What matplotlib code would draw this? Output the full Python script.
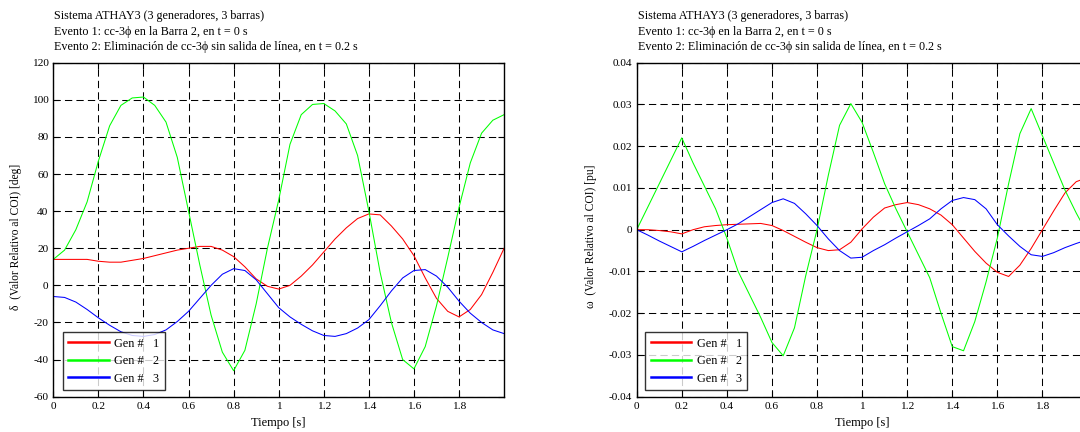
import numpy as np
import matplotlib
matplotlib.use("Agg")
import matplotlib.pyplot as plt

plt.rcParams["font.family"] = ["Liberation Serif", "DejaVu Serif"]

# time base of the read-off samples [s]
t = np.round(np.arange(0, 2.0001, 0.05), 2)

# rotor angle relative to COI [deg]
delta_g1 = [14, 14, 14, 14, 13, 12.5, 12.5, 13.5, 14.5, 16, 17.5, 19, 20, 21, 21, 19,
            15.5, 10, 3.5, -0.5, -2, 0, 5, 11, 18, 25, 31, 36, 38.5, 38, 32, 25, 16,
            4, -7, -14, -17, -13, -5, 7, 20]
delta_g2 = [14, 19, 30, 45, 67, 86, 97, 101, 101.5, 97, 88, 69, 40, 11, -16, -36,
            -46, -35, -10, 20, 46, 76, 92, 97.5, 98, 94, 87, 70, 40, 7, -20, -40, -45,
            -33, -11, 15, 42, 66, 82, 89, 92]
delta_g3 = [-6, -6.5, -9, -13, -17.5, -21.5, -25, -27, -27.5, -26.5, -24, -19.5, -14,
            -7, 0, 6, 9, 8, 3, -4.5, -12, -17, -21, -24.5, -27, -27.5, -26, -23, -18.5,
            -11, -3, 4, 8, 8.5, 5, -1, -8.5, -15, -20, -24, -26]

# speed relative to COI [pu]
omega_g1 = [0, 0, -0.0002, -0.0005, -0.001, 0, 0.0007, 0.001, 0.0012, 0.0013, 0.0014,
            0.0015, 0.001, -0.0002, -0.0016, -0.003, -0.0043, -0.005, -0.0048, -0.003,
            0.0002, 0.003, 0.0052, 0.006, 0.0065, 0.006, 0.005, 0.0035, 0.0012, -0.002,
            -0.0052, -0.008, -0.0102, -0.0112, -0.0085, -0.0045, 0, 0.0045, 0.0088,
            0.0115, 0.0125]
omega_g2 = [0, 0.0055, 0.011, 0.0165, 0.022, 0.016, 0.0105, 0.005, -0.002, -0.01,
            -0.0155, -0.021, -0.027, -0.0302, -0.0235, -0.011, 0.0, 0.013, 0.025, 0.0302,
            0.0257, 0.0185, 0.011, 0.005, -0.0005, -0.006, -0.0115, -0.02, -0.028,
            -0.029, -0.022, -0.0125, -0.002, 0.011, 0.023, 0.029, 0.0225, 0.016, 0.0095,
            0.004, -0.001]
omega_g3 = [0, -0.0013, -0.0027, -0.004, -0.0053, -0.004, -0.0026, -0.0013, 0, 0.0014,
            0.0031, 0.0048, 0.0065, 0.0074, 0.0063, 0.0038, 0.001, -0.0022, -0.005,
            -0.0068, -0.0066, -0.005, -0.0036, -0.002, -0.0005, 0.001, 0.0026, 0.005,
            0.007, 0.0077, 0.0072, 0.005, 0.0012, -0.0015, -0.004, -0.006, -0.0064,
            -0.0055, -0.0043, -0.0033, -0.0024]

x_ticks = [0, 0.2, 0.4, 0.6, 0.8, 1.0, 1.2, 1.4, 1.6, 1.8]
x_labels = ["0", "0.2", "0.4", "0.6", "0.8", "1", "1.2", "1.4", "1.6", "1.8"]
delta_ticks = [-60, -40, -20, 0, 20, 40, 60, 80, 100, 120]
delta_labels = ["-60", "-40", "-20", "0", "20", "40", "60", "80", "100", "120"]
omega_ticks = [-0.04, -0.03, -0.02, -0.01, 0, 0.01, 0.02, 0.03, 0.04]
omega_labels = ["-0.04", "-0.03", "-0.02", "-0.01", "0", "0.01", "0.02", "0.03", "0.04"]

gen_names = ["Gen #   1", "Gen #   2", "Gen #   3"]
colors = ["#ff0000", "#00ff00", "#0000ff"]

title_lines = [
    "Sistema ATHAY3 (3 generadores, 3 barras)",
    "Evento 1: cc-3\u03d5 en la Barra 2, en t = 0 s",
    "Evento 2: Eliminaci\u00f3n de cc-3\u03d5 sin salida de l\u00ednea, en t = 0.2 s",
]

W, H = 1080, 432
fig = plt.figure(figsize=(W / 100, H / 100), dpi=100)

panels = [
    dict(left=53.3, right=504.1, series=[delta_g1, delta_g2, delta_g3],
         ylim=(-60, 120), yt=delta_ticks, yl=delta_labels,
         ylabel="\u03b4  (Valor Relativo al COI) [deg]", ylab_x=22, leg_x=62.7),
    dict(left=636.7, right=1087.5, series=[omega_g1, omega_g2, omega_g3],
         ylim=(-0.04, 0.04), yt=omega_ticks, yl=omega_labels,
         ylabel="\u03c9  (Valor Relativo al COI) [pu]", ylab_x=597, leg_x=645.3),
]

top_px, bot_px = 62.7, 396.7
for p in panels:
    width = p["right"] - p["left"]
    ax = fig.add_axes([p["left"] / W, 1 - bot_px / H, width / W, (bot_px - top_px) / H])
    for s, c, name in zip(p["series"], colors, gen_names):
        ax.plot(t, s, color=c, lw=0.75, label=name)
    ax.set_xlim(0, 2.0)
    ax.set_ylim(*p["ylim"])
    ax.set_xticks(x_ticks)
    ax.set_xticklabels(x_labels)
    ax.set_yticks(p["yt"])
    ax.set_yticklabels(p["yl"])
    ax.tick_params(direction="in", length=4, width=0.8, labelsize=8.2, pad=3.5,
                   top=True, right=True)
    ax.grid(True, color="k", lw=0.75, linestyle=(0, (7, 4)))
    ax.set_axisbelow(True)
    for sp in ax.spines.values():
        sp.set_linewidth(1.0)
    ax.set_xlabel("Tiempo [s]", fontsize=9)
    ax.xaxis.set_label_coords(0.5, -0.062)
    ax.set_ylabel(p["ylabel"], fontsize=8.3)
    ax.yaxis.set_label_coords((p["ylab_x"] - p["left"]) / width, 0.48)

    leg = ax.legend(loc="lower left",
                    bbox_to_anchor=((p["leg_x"] - p["left"]) / width, 0.02),
                    borderaxespad=0, fontsize=8.8, frameon=True, fancybox=False,
                    edgecolor="k", handlelength=3.3, handletextpad=0.45,
                    labelspacing=0.45, borderpad=0.45)
    leg.get_frame().set_linewidth(1.0)
    for ln in leg.get_lines():
        ln.set_linewidth(1.8)

    for i, line in enumerate(title_lines):
        fig.text(p["left"] / W + 0.001, 1 - (16.5 + 15.3 * i) / H, line,
                 fontsize=8.7, va="center", ha="left")

fig.savefig("out.png", dpi=100)
